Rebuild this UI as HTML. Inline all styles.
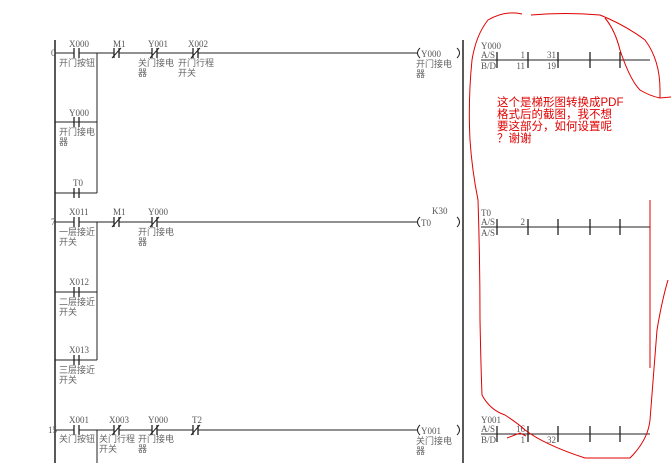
<!DOCTYPE html>
<html><head><meta charset="utf-8"><style>
body{margin:0;background:#fff;}
svg{display:block;}
.t{font-family:"Liberation Serif","Noto Serif CJK SC",serif;font-size:9px;fill:#555;}
.c{font-family:"Liberation Sans","Noto Sans CJK SC",sans-serif;font-size:9px;fill:#666;}
.r{font-family:"Liberation Sans","Noto Sans CJK SC",sans-serif;font-size:11.5px;fill:#e00000;}
</style></head><body>
<svg width="671" height="463" viewBox="0 0 671 463" xmlns="http://www.w3.org/2000/svg">
<defs>
<g id="no"><line x1="-9" y1="0" x2="-3" y2="0" stroke="#222"/><line x1="-3" y1="-5" x2="-3" y2="5" stroke="#222" stroke-width="1.3"/><line x1="2" y1="-5" x2="2" y2="5" stroke="#222" stroke-width="1.3"/><line x1="2" y1="0" x2="9" y2="0" stroke="#222"/></g>
<g id="nc"><use href="#no"/><line x1="-5" y1="5" x2="4" y2="-5" stroke="#222"/></g>
<g id="tbl"><line x1="481" y1="0" x2="650" y2="0" stroke="#222"/>
<line x1="497" y1="-8" x2="497" y2="8" stroke="#222" stroke-width="1.3"/><line x1="528" y1="-8" x2="528" y2="8" stroke="#222" stroke-width="1.3"/><line x1="558" y1="-8" x2="558" y2="8" stroke="#222" stroke-width="1.3"/><line x1="590" y1="-8" x2="590" y2="8" stroke="#222" stroke-width="1.3"/><line x1="620" y1="-8" x2="620" y2="8" stroke="#222" stroke-width="1.3"/></g>
</defs>
<g stroke="#222" fill="none">
<line x1="55" y1="40" x2="55" y2="463" stroke-width="1.5"/>
<line x1="463" y1="40" x2="463" y2="463" stroke-width="1.5"/>
<line x1="55" y1="53" x2="417" y2="53"/>
<line x1="55" y1="222" x2="417" y2="222"/>
<line x1="55" y1="430" x2="417" y2="430"/>
<line x1="55" y1="122" x2="97" y2="122"/><line x1="55" y1="193" x2="97" y2="193"/>
<line x1="97" y1="53" x2="97" y2="193"/>
<line x1="55" y1="292" x2="97" y2="292"/><line x1="55" y1="360" x2="97" y2="360"/>
<line x1="97" y1="222" x2="97" y2="360"/>
<line x1="97" y1="430" x2="97" y2="463"/>
<path d="M420 48 Q415 53 420 58"/><path d="M457 48 Q462 53 457 58"/>
<path d="M420 217 Q415 222 420 227"/><path d="M457 217 Q462 222 457 227"/>
<path d="M420 425 Q415 430 420 435"/><path d="M457 425 Q462 430 457 435"/>
</g>
<g fill="#fff"><rect x="70" y="47" width="14" height="12"/><rect x="110" y="47" width="14" height="12"/><rect x="148" y="47" width="14" height="12"/><rect x="189" y="47" width="14" height="12"/>
<rect x="70" y="216" width="14" height="12"/><rect x="110" y="216" width="14" height="12"/><rect x="148" y="216" width="14" height="12"/>
<rect x="70" y="424" width="14" height="12"/><rect x="110" y="424" width="14" height="12"/><rect x="148" y="424" width="14" height="12"/><rect x="189" y="424" width="14" height="12"/></g>
<use href="#no" x="77" y="53"/><use href="#nc" x="117" y="53"/><use href="#nc" x="155" y="53"/><use href="#nc" x="196" y="53"/>
<use href="#no" x="77" y="122"/><use href="#no" x="77" y="193"/>
<use href="#no" x="77" y="222"/><use href="#nc" x="117" y="222"/><use href="#nc" x="155" y="222"/>
<use href="#no" x="77" y="292"/><use href="#no" x="77" y="360"/>
<use href="#no" x="77" y="430"/><use href="#nc" x="117" y="430"/><use href="#nc" x="155" y="430"/><use href="#nc" x="196" y="430"/>
<text class="t" x="51" y="56">0</text><text class="t" x="51" y="225">7</text><text class="t" x="48" y="433">15</text>
<text class="t" x="69" y="47">X000</text><text class="t" x="113" y="47">M1</text><text class="t" x="148" y="47">Y001</text><text class="t" x="188" y="47">X002</text>
<text class="c" x="59" y="66">开门按钮</text><text class="c" x="138" y="66">关门接电</text><text class="c" x="138" y="76">器</text><text class="c" x="178" y="66">开门行程</text><text class="c" x="178" y="76">开关</text>
<text class="t" x="69" y="116">Y000</text><text class="c" x="59" y="135">开门接电</text><text class="c" x="59" y="145">器</text>
<text class="t" x="73" y="186">T0</text>
<text class="t" x="69" y="215">X011</text><text class="t" x="113" y="215">M1</text><text class="t" x="148" y="215">Y000</text>
<text class="c" x="59" y="235">一层接近</text><text class="c" x="59" y="245">开关</text><text class="c" x="138" y="235">开门接电</text><text class="c" x="138" y="245">器</text>
<text class="t" x="69" y="285">X012</text><text class="c" x="59" y="305">二层接近</text><text class="c" x="59" y="315">开关</text>
<text class="t" x="69" y="353">X013</text><text class="c" x="59" y="373">三层接近</text><text class="c" x="59" y="383">开关</text>
<text class="t" x="69" y="423">X001</text><text class="t" x="109" y="423">X003</text><text class="t" x="148" y="423">Y000</text><text class="t" x="192" y="423">T2</text>
<text class="c" x="59" y="442">关门按钮</text><text class="c" x="99" y="442">关门行程</text><text class="c" x="99" y="452">开关</text><text class="c" x="138" y="442">开门接电</text><text class="c" x="138" y="452">器</text>
<text class="t" x="421" y="57">Y000</text><text class="c" x="416" y="67">开门接电</text><text class="c" x="416" y="77">器</text>
<text class="t" x="432" y="214">K30</text><text class="t" x="421" y="226">T0</text>
<text class="t" x="421" y="434">Y001</text><text class="c" x="416" y="444">关门接电</text><text class="c" x="416" y="454">器</text>
<use href="#tbl" y="60"/><use href="#tbl" y="227"/><use href="#tbl" y="434"/>
<text class="t" x="481" y="49">Y000</text><text class="t" x="481" y="58">A/S</text><text class="t" x="481" y="69">B/D</text>
<text class="t" x="525" y="58" text-anchor="end">1</text><text class="t" x="556" y="58" text-anchor="end">31</text>
<text class="t" x="525" y="69" text-anchor="end">11</text><text class="t" x="556" y="69" text-anchor="end">19</text>
<text class="t" x="481" y="216">T0</text><text class="t" x="481" y="225">A/S</text><text class="t" x="481" y="236">A/S</text><text class="t" x="525" y="225" text-anchor="end">2</text>
<text class="t" x="481" y="423">Y001</text><text class="t" x="481" y="432">A/S</text><text class="t" x="481" y="443">B/D</text>
<text class="t" x="525" y="432" text-anchor="end">16</text><text class="t" x="525" y="443" text-anchor="end">1</text><text class="t" x="556" y="443" text-anchor="end">32</text>
<text class="r" x="497" y="106">这个是梯形图转换成PDF</text><text class="r" x="497" y="118">格式后的截图，我不想</text>
<text class="r" x="497" y="130">要这部分，如何设置呢</text><text class="r" x="497" y="142">？谢谢</text>
<g stroke="#e00000" fill="none" stroke-width="1">
<path d="M522 14 Q505 10 488 20 Q476 35 472 60 Q468 100 470 140 Q472 170 478 200 Q480 260 480 320 Q481 370 482 395 Q490 410 505 415 Q520 425 525 430 Q545 445 585 458 L630 458 Q648 440 650 420 L657 330 Q662 300 668 280"/>
<path d="M531 15 Q565 12 600 15 Q625 25 645 40 Q660 60 660 90 L660 98 L671 97"/>
<path d="M605 18 Q615 30 620 50 Q630 80 640 90 Q650 96 660 98"/>
<path d="M650 368 L650 200"/>
<path d="M507 438 L520 433 L526 436"/>
</g>
</svg>
</body></html>
